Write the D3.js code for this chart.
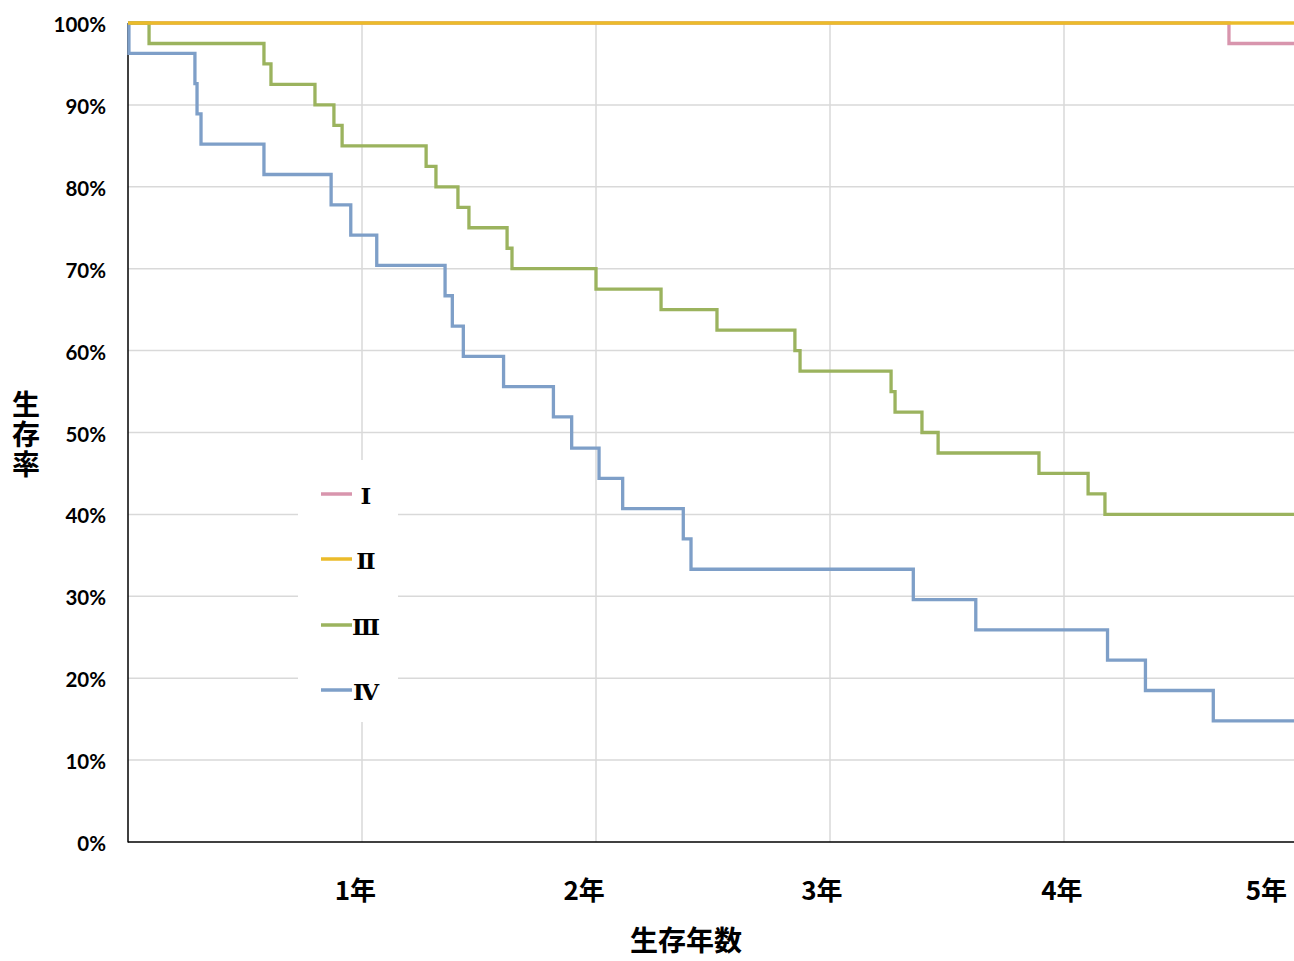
<!DOCTYPE html>
<html>
<head>
<meta charset="utf-8">
<script src="https://cdn.jsdelivr.net/npm/d3@7/dist/d3.min.js"></script>
<style>
  html, body { margin: 0; padding: 0; background: #fff; }
  svg { display: block; }
</style>
</head>
<body>
<svg id="chart" width="1294" height="961"></svg>
<script>
// ---------- data ----------
const stageNames = ["Ⅰ", "Ⅱ", "Ⅲ", "Ⅳ"];
const stageColors = ["#D895AD", "#EBBB2A", "#9BB35E", "#7E9FC8"];

// step times (years) and survival (%) after each step
const stage1Times = [0, 4.705];
const stage1Surv  = [100, 97.5];

const stage2Times = [0];
const stage2Surv  = [100];

const stage3Times = [0, 0.09, 0.581, 0.611, 0.799, 0.880, 0.915, 1.274, 1.316, 1.410, 1.457, 1.620, 1.641,
                     2.000, 2.278, 2.517, 2.850, 2.872, 3.261, 3.278, 3.393, 3.462, 3.893, 4.103, 4.175];
const stage3Surv  = [100, 97.5, 95.0, 92.5, 90.0, 87.5, 85.0, 82.5, 80.0, 77.5, 75.0, 72.5, 70.0,
                     67.5, 65.0, 62.5, 60.0, 57.5, 55.0, 52.5, 50.0, 47.5, 45.0, 42.5, 40.0];

const stage4Times = [0, 0.004, 0.286, 0.295, 0.312, 0.581, 0.868, 0.952, 1.063, 1.355, 1.386, 1.433, 1.605,
                     1.818, 1.896, 2.013, 2.114, 2.373, 2.406, 3.356, 3.623, 4.186, 4.348, 4.638];
const stage4Surv  = [100, 96.3, 92.6, 88.9, 85.2, 81.5, 77.8, 74.1, 70.4, 66.7, 63.0, 59.3, 55.6,
                     51.9, 48.1, 44.4, 40.7, 37.0, 33.3, 29.6, 25.9, 22.2, 18.5, 14.8];

const endTime = 5.0;

const yTicks = [0, 10, 20, 30, 40, 50, 60, 70, 80, 90, 100];
const xGridYears = [1, 2, 3, 4];
const xTickLabels = ["1年", "2年", "3年", "4年", "5年"];
const xTickLabelPos = [0.972, 1.949, 2.965, 3.991, 4.865];

const xTitle = "生存年数";
const yTitle = "生存率";

(function () {
// ---------- layout ----------
const svg = d3.select("#chart");
const mLeft = 128, mRight = 1298, mTop = 23, mBottom = 842;

const x = d3.scaleLinear().domain([0, 5]).range([mLeft, mRight]);
const y = d3.scaleLinear().domain([0, 100]).range([mBottom, mTop]);

const g = svg.append("g");

// horizontal gridlines
g.selectAll(".hgrid").data(yTicks.filter(d => d > 0)).enter().append("line")
  .attr("x1", mLeft).attr("x2", 1294)
  .attr("y1", d => y(d)).attr("y2", d => y(d))
  .attr("stroke", "#d9d9d9").attr("stroke-width", 1.5);

// vertical gridlines
g.selectAll(".vgrid").data(xGridYears).enter().append("line")
  .attr("x1", d => x(d)).attr("x2", d => x(d))
  .attr("y1", mTop).attr("y2", mBottom)
  .attr("stroke", "#d9d9d9").attr("stroke-width", 1.5);

// axes lines
g.append("line").attr("x1", mLeft).attr("x2", mLeft).attr("y1", mTop).attr("y2", mBottom + 0.5)
  .attr("stroke", "#000").attr("stroke-width", 1.5);
g.append("line").attr("x1", mLeft).attr("x2", 1294).attr("y1", mBottom).attr("y2", mBottom)
  .attr("stroke", "#000").attr("stroke-width", 1.5);

// y tick labels
g.selectAll(".ylab").data(yTicks).enter().append("text")
  .attr("x", 106).attr("y", d => y(d) + 1)
  .attr("text-anchor", "end").attr("dominant-baseline", "central")
  .attr("font-family", "Lato, 'Open Sans', sans-serif").attr("font-weight", "bold")
  .attr("font-size", 20.5).attr("fill", "#000")
  .text(d => d + "%");

// x tick labels
g.selectAll(".xlab").data(xTickLabels).enter().append("text")
  .attr("x", (d, i) => x(xTickLabelPos[i])).attr("y", 888)
  .attr("text-anchor", "middle").attr("dominant-baseline", "central")
  .attr("font-family", "'Noto Sans CJK JP', sans-serif").attr("font-weight", "bold")
  .attr("font-size", 26).attr("fill", "#000")
  .text(d => d);

// axis titles
g.append("text").attr("x", 686).attr("y", 939)
  .attr("text-anchor", "middle").attr("dominant-baseline", "central")
  .attr("font-family", "'Noto Sans CJK JP', sans-serif").attr("font-weight", "bold")
  .attr("font-size", 28).attr("fill", "#000").text(xTitle);

g.append("text").attr("x", 26).attr("y", 435)
  .attr("text-anchor", "middle")
  .attr("writing-mode", "vertical-rl")
  .attr("font-family", "'Noto Sans CJK JP', sans-serif").attr("font-weight", "bold")
  .attr("font-size", 28).attr("fill", "#000")
  .style("letter-spacing", "2px")
  .text(yTitle);

// survival step curves
const series = [
  { times: stage1Times, surv: stage1Surv },
  { times: stage2Times, surv: stage2Surv },
  { times: stage3Times, surv: stage3Surv },
  { times: stage4Times, surv: stage4Surv }
];

const line = d3.line().x(d => x(d[0])).y(d => y(d[1])).curve(d3.curveStepAfter);

const drawOrder = [0, 2, 3, 1];
drawOrder.forEach(i => {
  const s = series[i];
  const pts = s.times.map((t, k) => [t, s.surv[k]]);
  pts.push([endTime, s.surv[s.surv.length - 1]]);
  g.append("path").datum(pts)
    .attr("d", line)
    .attr("fill", "none")
    .attr("stroke", stageColors[i])
    .attr("stroke-width", 3.3)
    .attr("stroke-linejoin", "miter");
});

// legend
const legend = g.append("g");
legend.append("rect").attr("x", 298).attr("y", 460).attr("width", 100).attr("height", 262)
  .attr("fill", "#fff");
const legendY = [494, 559, 625, 690];
stageNames.forEach((name, i) => {
  legend.append("line")
    .attr("x1", 321).attr("x2", 352).attr("y1", legendY[i]).attr("y2", legendY[i])
    .attr("stroke", stageColors[i]).attr("stroke-width", 3.5);
  legend.append("text")
    .attr("x", 366).attr("y", legendY[i] + 1)
    .attr("text-anchor", "middle").attr("dominant-baseline", "central")
    .attr("font-family", "'DejaVu Serif', 'Liberation Serif', serif").attr("font-weight", "bold")
    .attr("font-size", 23).attr("fill", "#000")
    .text(name);
});
})();
</script>
</body>
</html>
